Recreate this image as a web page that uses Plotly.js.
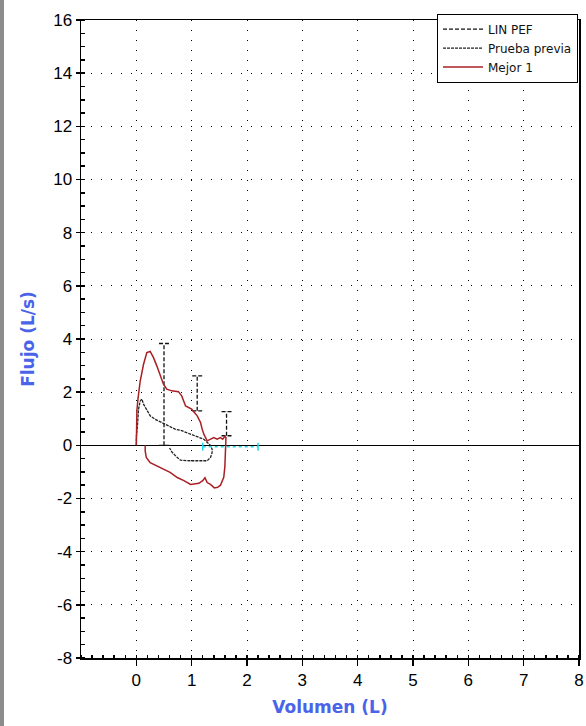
<!DOCTYPE html>
<html>
<head>
<meta charset="utf-8">
<script src="https://cdn.plot.ly/plotly-3.0.1.min.js"></script>
<style>
html,body{margin:0;padding:0;background:#fff;}
#frame{position:absolute;left:0;top:0;width:586px;height:726px;}
#bar{position:absolute;left:0;top:0;width:4px;height:726px;background:#8c8c8c;}
#chart{position:absolute;left:0;top:0;width:586px;height:726px;}
</style>
</head>
<body>
<div id="frame"><div id="chart"></div><div id="bar"></div></div>
<script>
// Mejor 1 (best effort) flow-volume loop
const mejorVol = [0, 0.0, 0.01, 0.03, 0.07, 0.13, 0.19, 0.25, 0.31, 0.37, 0.43, 0.49, 0.55, 0.64, 0.76, 0.82, 0.89, 1.0, 1.1, 1.16, 1.19, 1.22, 1.28, 1.34, 1.4, 1.46, 1.52, 1.56, 1.6, 1.62, 1.61, 1.6, 1.58, 1.52, 1.47, 1.41, 1.34, 1.28, 1.24, 1.2, 1.13, 0.98, 0.86, 0.74, 0.61, 0.49, 0.37, 0.25, 0.18, 0.16, 0.16];
const mejorFlow = [0, 0.6, 1.3, 1.75, 2.42, 3.05, 3.49, 3.53, 3.3, 2.99, 2.68, 2.3, 2.11, 2.05, 2.02, 1.86, 1.48, 1.36, 1.11, 0.86, 0.61, 0.42, 0.17, 0.23, 0.29, 0.23, 0.29, 0.23, 0.33, 0.29, -0.4, -0.8, -1.2, -1.5, -1.58, -1.6, -1.47, -1.4, -1.22, -1.33, -1.43, -1.47, -1.33, -1.21, -1.02, -0.9, -0.77, -0.65, -0.46, -0.21, 0];
// Prueba previa (previous test)
const previaVol = [0, 0.0, 0.02, 0.04, 0.07, 0.1, 0.13, 0.19, 0.25, 0.34, 0.46, 0.58, 0.7, 0.82, 0.94, 1.0, 1.13, 1.22, 1.28, 1.34, 1.37, 1.37, 1.34, 1.28, 0.98, 0.8, 0.74, 0.65, 0.6];
const previaFlow = [0, 0.3, 0.73, 1.36, 1.67, 1.74, 1.55, 1.3, 1.11, 0.98, 0.86, 0.73, 0.61, 0.55, 0.45, 0.38, 0.3, 0.23, 0.1, 0, -0.15, -0.27, -0.46, -0.58, -0.58, -0.56, -0.46, -0.27, -0.1];
// LIN PEF ranges
const linVol = [0.5, 1.1, 1.63];
const linLow = [0, 1.3, 0.36];
const linHigh = [3.83, 2.61, 1.27];
// cyan markers on the zero line
const markVol = [1.2, 2.2];
const markFlow = -0.05;
const markHalf = 0.15;

const xTicks = [0, 1, 2, 3, 4, 5, 6, 7, 8];
const yTicks = [-8, -6, -4, -2, 0, 2, 4, 6, 8, 10, 12, 14, 16];

const capHalf = 0.09;
const lx = [], ly = [];
linVol.forEach((v, i) => {
  lx.push(v, v, null, v - capHalf, v + capHalf, null, v - capHalf, v + capHalf, null);
  ly.push(linLow[i], linHigh[i], null, linHigh[i], linHigh[i], null, linLow[i], linLow[i], null);
});
const cx = [], cy = [];
markVol.forEach(v => { cx.push(v, v, null); cy.push(markFlow - markHalf, markFlow + markHalf, null); });

const traces = [
  {x: lx, y: ly, mode: 'lines', name: 'LIN PEF', line: {color: '#111', width: 1.3, dash: '4px,2px'}, connectgaps: false},
  {x: previaVol, y: previaFlow, mode: 'lines', name: 'Prueba previa', line: {color: '#222', width: 1.3, dash: '3px,1px'}},
  {x: mejorVol, y: mejorFlow, mode: 'lines', name: 'Mejor 1', line: {color: '#a82024', width: 1.5}},
  {x: [markVol[0], markVol[1]], y: [markFlow, markFlow], mode: 'lines', showlegend: false, line: {color: '#22d8e6', width: 1.5, dash: '3px,3px'}},
  {x: cx, y: cy, mode: 'lines', showlegend: false, line: {color: '#22d8e6', width: 1.5}}
];

const tickFont = {family: 'Liberation Sans, Arial, sans-serif', size: 17, color: '#000'};
const titleFont = {family: 'DejaVu Sans, Verdana, sans-serif', size: 17, color: '#4a63e8', weight: 'bold'};

const layout = {
  width: 586, height: 726,
  margin: {l: 81, r: 7, t: 20, b: 68},
  paper_bgcolor: '#fff', plot_bgcolor: '#fff',
  showlegend: true,
  legend: {x: 0.998, xanchor: 'right', y: 1.01, yanchor: 'top', bgcolor: '#fff', bordercolor: '#000', borderwidth: 1,
           font: {family: 'DejaVu Sans, Verdana, sans-serif', size: 12, color: '#111'}, itemwidth: 40, tracegroupgap: 0},
  xaxis: {
    range: [-1, 8], tickvals: xTicks, ticktext: xTicks.map(String), tickfont: tickFont,
    showline: true, linecolor: '#000', linewidth: 1.5, mirror: true,
    ticks: 'outside', ticklen: 6, tickcolor: '#000', tickwidth: 1.5,
    showgrid: true, gridcolor: '#000', gridwidth: 1, griddash: '1px,9px',
    zeroline: false,
    minor: {dtick: 0.2, tick0: 0, ticks: 'inside', ticklen: 3, tickcolor: '#000', showgrid: false},
    title: {text: 'Volumen (L)', font: titleFont, standoff: 12}
  },
  yaxis: {
    range: [-8, 16], tickvals: yTicks, ticktext: yTicks.map(String), tickfont: tickFont,
    showline: true, linecolor: '#000', linewidth: 1.5, mirror: true,
    ticks: 'outside', ticklen: 4, tickcolor: '#000', tickwidth: 1.5,
    showgrid: true, gridcolor: '#000', gridwidth: 1, griddash: '1px,9px',
    zeroline: true, zerolinecolor: '#000', zerolinewidth: 1.5,
    minor: {dtick: 0.5, tick0: 0, ticks: 'inside', ticklen: 4, tickcolor: '#000', showgrid: false},
    title: {text: 'Flujo (L/s)', font: titleFont, standoff: 14}
  }
};

Plotly.newPlot('chart', traces, layout, {displayModeBar: false, staticPlot: true});
</script>
</body>
</html>
